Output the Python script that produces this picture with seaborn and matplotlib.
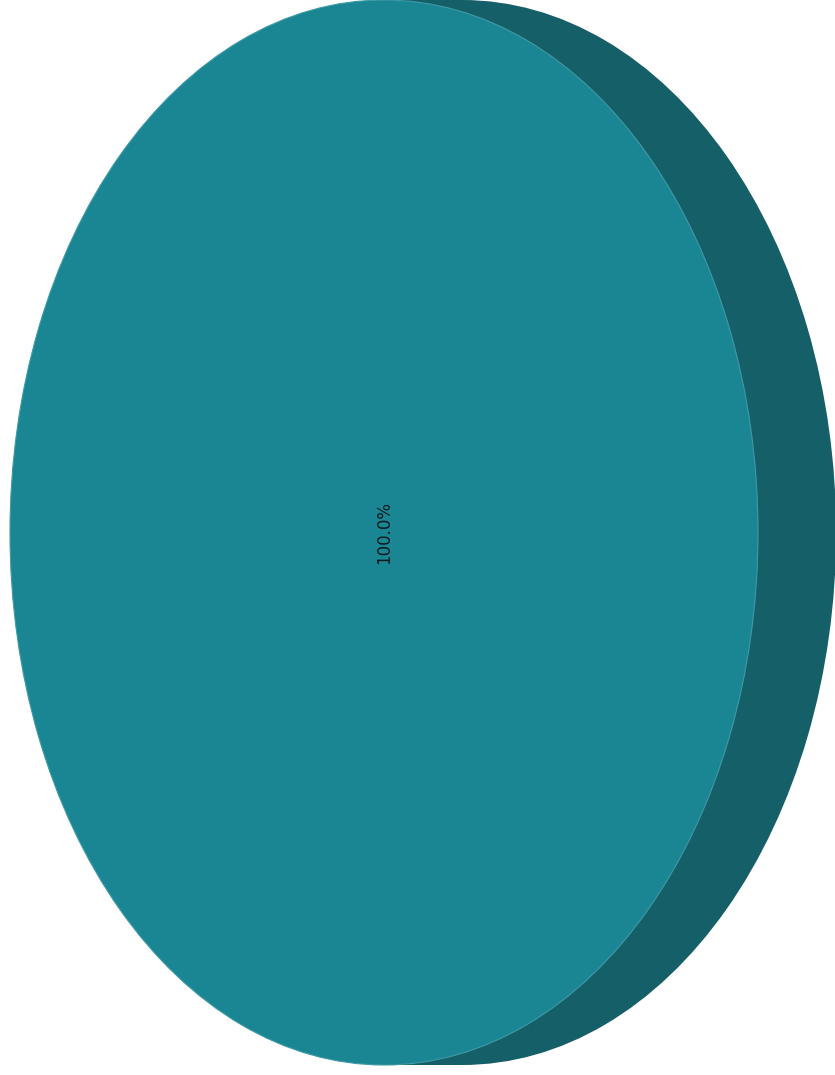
import matplotlib
matplotlib.use("Agg")
import matplotlib.pyplot as plt
import seaborn as sns
import numpy as np

# data
categories = ["Total"]
values = [100.0]

face_color = "#1a8694"
side_color = "#155f69"

sns.set_theme(style="white")
plt.rcParams["font.family"] = ["DejaVu Sans"]

fig = plt.figure(figsize=(8.35, 10.75), dpi=100)
ax = fig.add_axes([0, 0, 1, 1])

depth = 0.209  # extrusion of the 3d side, in radius units

# back / side of the disc
ax.pie(values, colors=[side_color], center=(depth, 0), radius=1,
       startangle=90, counterclock=False, frame=True,
       wedgeprops=dict(linewidth=0))
ax.add_patch(plt.Rectangle((0, -1), depth, 2, color=side_color, lw=0, zorder=0.5))

# front face
ax.pie(values, colors=[face_color], center=(0, 0), radius=1,
       startangle=90, counterclock=False, frame=True,
       autopct="%1.1f%%", pctdistance=0.0,
       textprops=dict(rotation=90, fontsize=12, color="#071a1d",
                      va="center", ha="center"),
       wedgeprops=dict(linewidth=0.8, edgecolor="#3f9aa5"))

ax.set_aspect("auto")
ax.set_xlim(-384 / 374, (835 - 384) / 374)
ax.set_ylim(-(1075 - 532.5) / 532.5, 1.0)
ax.set_axis_off()

fig.savefig("out.png", dpi=100)
